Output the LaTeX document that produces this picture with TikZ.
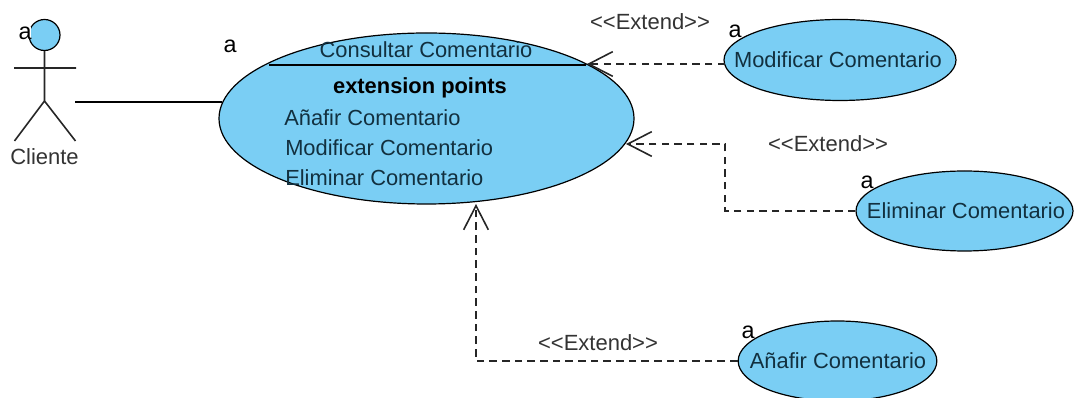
\documentclass[tikz,border=0pt]{standalone}
\usepackage{fontspec}
\setmainfont{Liberation Sans}
\usetikzlibrary{arrows.meta,shapes.geometric}
\definecolor{ucfill}{HTML}{7ACEF4}
\definecolor{lbl}{HTML}{333333}
\definecolor{uctxt}{HTML}{12303F}
\tikzset{
  x=0.75pt,y=-0.75pt,
  uc/.style={ellipse,draw=black,fill=ucfill,line width=0.9pt,inner sep=0pt},
  uctext/.style={font=\fontsize{16.4pt}{18pt}\selectfont,text=uctxt,inner sep=0pt,anchor=center},
  lab/.style={font=\fontsize{16.5pt}{18pt}\selectfont,text=lbl,inner sep=0pt},
  aa/.style={font=\fontsize{17.5pt}{18pt}\selectfont,text=black,inner sep=0pt,fill=white},
  stick/.style={line width=1.2pt,draw=black!85},
  ext/.style={line width=1.2pt,draw=black!85,dash pattern=on 5.6pt off 3.9pt,-{Straight Barb[length=18pt,width=18.5pt,line width=1.2pt]}},
  solidline/.style={line width=1pt,draw=black}
}
\begin{document}
\begin{tikzpicture}
\useasboundingbox (0,0) rectangle (1074,398);
% actor
\node[uc,minimum width=23.25pt,minimum height=23.25pt] (head) at (44.5,35) {};
\coordinate (hip) at (44.5,101);
\coordinate (armL) at (14,68);
\coordinate (armR) at (76,68);
\coordinate (legL) at (14.5,141);
\coordinate (legR) at (75.5,141);
\draw[stick] (head.south) -- (hip) (armL) -- (armR) (legL) -- (hip) -- (legR);
\node[lab] (cli) at (44.5,157) {Cliente};
\node[aa] (a0) at (25,33) {a};
% main use case
\node[uc,minimum width=311.25pt,minimum height=128.25pt] (main) at (426.5,118.5) {};
\coordinate (sepL) at (269,65);
\coordinate (sepR) at (586,65);
\draw[solidline] (sepL) -- (sepR);
\node[uctext] (t1) at (426,50) {Consultar Comentario};
\node[uctext,font=\fontsize{16.4pt}{18pt}\selectfont\bfseries,text=black] (t2) at (420,88) {extension points};
\node[uctext,anchor=west] (t3) at (284,118) {Añafir Comentario};
\node[uctext,anchor=west] (t4) at (285,148) {Modificar Comentario};
\node[uctext,anchor=west] (t5) at (285,178) {Eliminar Comentario};
\node[aa] (a1) at (230,46) {a};
% other use cases
\node[uc,minimum width=174pt,minimum height=60.75pt] (mod) at (840,60) {};
\node[uctext] (modt) at (838,60) {Modificar Comentario};
\node[aa] (a2) at (735,31) {a};
\node[uc,minimum width=162.75pt,minimum height=60pt] (eli) at (964.5,211) {};
\node[uctext] (elit) at (966,211) {Eliminar Comentario};
\node[aa] (a3) at (867,182) {a};
\node[uc,minimum width=149pt,minimum height=60pt] (ana) at (837.5,361) {};
\node[uctext] (anat) at (838,361) {Añafir Comentario};
\node[aa] (a4) at (748,332) {a};
% connectors
\coordinate (act) at (75,102);
\coordinate (m1) at (222,102);
\draw[solidline] (act) -- (m1);
\coordinate (e1) at (587,64);
\coordinate (s1) at (725,64);
\draw[ext] (s1) -- (e1);
\coordinate (e2) at (626,144);
\coordinate (b2) at (725,144);
\coordinate (b2b) at (725,211);
\draw[ext] (eli.west) -- (b2b) -- (b2) -- (e2);
\coordinate (e3) at (476,204);
\coordinate (b3) at (476,361);
\draw[ext] (ana.west) -- (b3) -- (e3);
\node[lab] (l1) at (650,22) {<{}<Extend>{}>};
\node[lab] (l2) at (828,144) {<{}<Extend>{}>};
\node[lab] (l3) at (598,343) {<{}<Extend>{}>};
\end{tikzpicture}
\end{document}
